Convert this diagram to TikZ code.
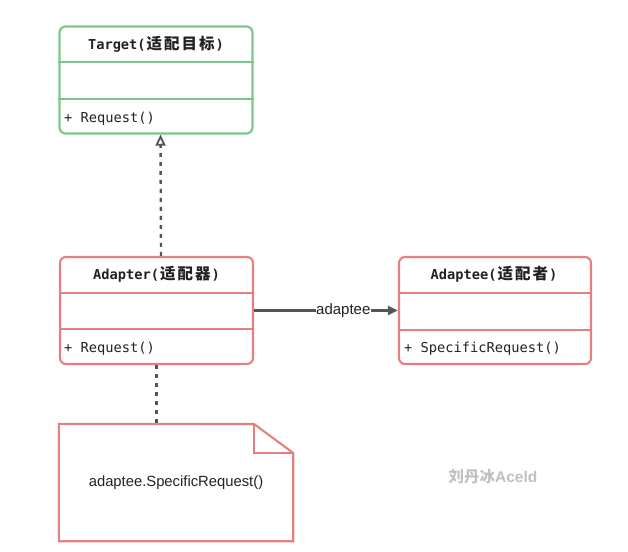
\documentclass[tikz,border=0pt]{standalone}
\usepackage{fontspec}
\setmainfont{Liberation Sans}
\setmonofont{DejaVu Sans Mono}
\newfontfamily\cjkfont{Noto Sans CJK SC}
\usetikzlibrary{arrows.meta}
\definecolor{umlgreen}{HTML}{7DC68A}
\definecolor{umlred}{HTML}{E68080}
\definecolor{conn}{HTML}{555555}
\definecolor{txt}{HTML}{222222}
\definecolor{wm}{HTML}{C0C0C0}
\newcommand\wch[1]{\makebox[17.5pt]{\fontsize{15.5}{16}\cjkfont #1}}
\tikzset{
  classbox/.style={draw=#1, line width=2.1pt, rounded corners=6pt, minimum width=193pt, minimum height=107pt, inner sep=0pt},
  divider/.style={draw=#1, line width=2.1pt},
  title/.style={inner sep=0pt, anchor=base, text=txt, font=\fontsize{13.7}{16}\selectfont\ttfamily\bfseries},
  method/.style={inner sep=0pt, anchor=base west, text=txt, font=\fontsize{13.7}{16}\selectfont\ttfamily},
  conline/.style={draw=conn, line width=2.4pt},
  dashline/.style={conline, dash pattern=on 4pt off 5pt},
}
\begin{document}
\begin{tikzpicture}[x=1pt,y=-1pt]
\useasboundingbox (0,0) rectangle (628,551);
% Target
\node[classbox=umlgreen] (target) at (156,80) {};
\node[title] (targetT) at (156,49.5) {Target(\wch{适}\wch{配}\wch{目}\wch{标})};
\draw[divider=umlgreen] (target.west |- 0,62) -- (target.east |- 0,62);
\draw[divider=umlgreen] (target.west |- 0,99) -- (target.east |- 0,99);
\node[method] (targetM) at (64,122) {+ Request()};
% Adapter
\node[classbox=umlred] (adapter) at (156.5,310.5) {};
\node[title] (adapterT) at (156.5,279.5) {Adapter(\wch{适}\wch{配}\wch{器})};
\draw[divider=umlred] (adapter.west |- 0,293) -- (adapter.east |- 0,293);
\draw[divider=umlred] (adapter.west |- 0,329) -- (adapter.east |- 0,329);
\node[method] (adapterM) at (64,352.5) {+ Request()};
% Adaptee
\node[classbox=umlred, minimum width=192pt] (adaptee) at (495,310.5) {};
\node[title] (adapteeT) at (494,279.5) {Adaptee(\wch{适}\wch{配}\wch{者})};
\draw[divider=umlred] (adaptee.west |- 0,293) -- (adaptee.east |- 0,293);
\draw[divider=umlred] (adaptee.west |- 0,330) -- (adaptee.east |- 0,330);
\node[method] (adapteeM) at (404,352.5) {+ SpecificRequest()};
% Note
\node[minimum width=234pt, minimum height=117pt, inner sep=0pt, text=txt, font=\fontsize{14.8}{16}\selectfont] (note) at (176,482.5) {adaptee.SpecificRequest()};
\draw[umlred, line width=2.1pt, line join=miter]
  (note.north west) -- (254,424) -- (note.north east |- 0,453) -- (note.south east) -- (note.south west) -- cycle;
\draw[umlred, line width=2.1pt] (254,424) -- (254,453) -- (note.north east |- 0,453);
% connectors
\draw[dashline, -{Triangle[open, length=11pt, width=10pt, line width=1.8pt]}]
  ([xshift=4.5pt]adapter.north) -- ([xshift=4.5pt]target.south);
\draw[dashline] (adapter.south) -- (note.north -| adapter.south);
\draw[conline, -{Triangle[length=10pt, width=9pt]}] (adapter.east) -- (adaptee.west)
  node[pos=0.62, fill=white, inner sep=0.5pt, text=txt, font=\fontsize{15}{16}\selectfont] (lbl) {adaptee};
% watermark
\node[inner sep=0pt, anchor=base, text=wm, font=\fontsize{15.5}{16}\selectfont\bfseries] (wmark) at (493,482) {{\cjkfont 刘丹冰}Aceld};
\end{tikzpicture}
\end{document}
